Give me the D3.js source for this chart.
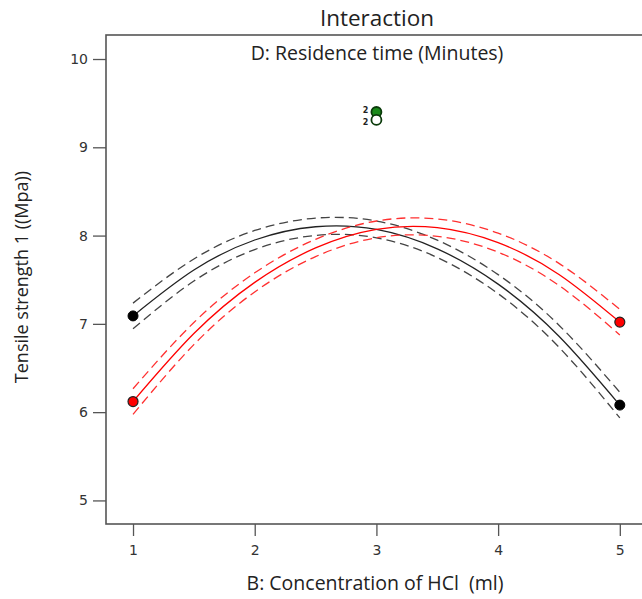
<!DOCTYPE html>
<html>
<head>
<meta charset="utf-8">
<script src="https://cdn.jsdelivr.net/npm/d3@7/dist/d3.min.js"></script>
<style>
  html, body { margin: 0; padding: 0; background: #fff; }
  svg { display: block; }
</style>
</head>
<body>
<svg id="chart" width="642" height="599"></svg>
<script>
// B: concentration of HCl (ml) positions where the curves are sampled
const hclLevels = [1, 1.5, 2, 2.5, 3, 3.5, 4, 4.5, 5];

// D low (black) — predicted tensile strength with confidence band
const lowMean  = [7.09, 7.61, 7.95, 8.10, 8.07, 7.85, 7.45, 6.86, 6.08];
const lowUpper = [7.235, 7.735, 8.058, 8.198, 8.165, 7.948, 7.558, 6.985, 6.225];
const lowLower = [6.945, 7.485, 7.842, 8.002, 7.975, 7.752, 7.342, 6.735, 5.935];

// D high (red) — predicted tensile strength with confidence band
const highMean  = [6.12, 6.89, 7.47, 7.86, 8.07, 8.09, 7.92, 7.56, 7.02];
const highUpper = [6.265, 7.015, 7.578, 7.958, 8.165, 8.188, 8.028, 7.685, 7.165];
const highLower = [5.975, 6.765, 7.362, 7.762, 7.975, 7.992, 7.812, 7.435, 6.875];

// End-point markers at the factor extremes
const lowEnds  = [[1, 7.09], [5, 6.08]];
const highEnds = [[1, 6.12], [5, 7.02]];

// Centre-point design runs (B, value, fill)
const centerRuns = [[3, 9.40, "#1a8a1a"], [3, 9.31, "#ffffff"]];
const centerLabels = ["2", "2"];

const xTicks = [1, 2, 3, 4, 5];
const yTicks = [5, 6, 7, 8, 9, 10];

const svg = d3.select("#chart");
const plotLeft = 106, plotTop = 35, plotBottom = 524, plotRight = 660;

const x = d3.scaleLinear().domain([0.778, 5.33]).range([plotLeft, plotLeft + (5.33 - 0.778) * 121.7]);
const y = d3.scaleLinear().domain([4.733, 10.272]).range([plotBottom, plotTop]);

const tickFont = "'DejaVu Sans', Verdana, sans-serif";
const labelFont = "'Open Sans', 'Noto Sans', sans-serif";

// Frame
svg.append("rect")
  .attr("x", plotLeft).attr("y", plotTop)
  .attr("width", plotRight - plotLeft).attr("height", plotBottom - plotTop)
  .attr("fill", "none").attr("stroke", "#555").attr("stroke-width", 1.6);

// Y axis
const yAxis = svg.append("g").attr("transform", `translate(${plotLeft},0)`)
  .call(d3.axisLeft(y).tickValues(yTicks).tickSize(13).tickPadding(5).tickFormat(d3.format("d")));
yAxis.select(".domain").remove();
yAxis.selectAll("line").attr("stroke", "#555").attr("stroke-width", 1.3);
yAxis.selectAll("text").attr("font-family", tickFont).attr("font-size", 14).attr("fill", "#333");

// X axis
const xAxis = svg.append("g").attr("transform", `translate(0,${plotBottom})`)
  .call(d3.axisBottom(x).tickValues(xTicks).tickSize(12).tickPadding(9).tickFormat(d3.format("d")));
xAxis.select(".domain").remove();
xAxis.selectAll("line").attr("stroke", "#555").attr("stroke-width", 1.3);
xAxis.selectAll("text").attr("font-family", tickFont).attr("font-size", 14).attr("fill", "#333");

// Titles
svg.append("text").attr("x", 377).attr("y", 26).attr("text-anchor", "middle")
  .attr("font-family", labelFont).attr("font-size", 22.5).attr("fill", "#222").text("Interaction");
svg.append("text").attr("x", 377).attr("y", 60).attr("text-anchor", "middle")
  .attr("font-family", labelFont).attr("font-size", 19.5).attr("fill", "#222").text("D: Residence time (Minutes)");
svg.append("text").attr("x", 375).attr("y", 590).attr("text-anchor", "middle")
  .attr("font-family", labelFont).attr("font-size", 19.5).attr("fill", "#222")
  .attr("xml:space", "preserve").style("white-space", "pre")
  .text("B: Concentration of HCl  (ml)");
svg.append("text").attr("transform", "translate(28,277) rotate(-90)").attr("text-anchor", "middle")
  .attr("font-family", labelFont).attr("font-size", 18).attr("fill", "#222").text("Tensile strength 1 ((Mpa))");

// Curves
const line = d3.line().x(d => x(d[0])).y(d => y(d[1])).curve(d3.curveNatural);
const zipped = vals => hclLevels.map((b, i) => [b, vals[i]]);

function drawCurve(vals, color, dashed) {
  svg.append("path").datum(zipped(vals))
    .attr("d", line).attr("fill", "none")
    .attr("stroke", color).attr("stroke-width", 1.3)
    .attr("stroke-dasharray", dashed ? "9,5" : null);
}
drawCurve(lowUpper, "#444", true);
drawCurve(lowLower, "#444", true);
drawCurve(lowMean, "#222", false);
drawCurve(highUpper, "#ff3030", true);
drawCurve(highLower, "#ff3030", true);
drawCurve(highMean, "#ff0000", false);

// End markers
svg.selectAll(".lowEnd").data(lowEnds).enter().append("circle")
  .attr("cx", d => x(d[0])).attr("cy", d => y(d[1])).attr("r", 5)
  .attr("fill", "#000").attr("stroke", "#000");
svg.selectAll(".highEnd").data(highEnds).enter().append("circle")
  .attr("cx", d => x(d[0])).attr("cy", d => y(d[1])).attr("r", 5)
  .attr("fill", "#ff0000").attr("stroke", "#222").attr("stroke-width", 1.2);

// Centre-point runs
svg.selectAll(".center").data(centerRuns).enter().append("circle")
  .attr("cx", d => x(d[0])).attr("cy", d => y(d[1])).attr("r", 5)
  .attr("fill", d => d[2]).attr("stroke", "#0a3a0a").attr("stroke-width", 1.8);
svg.selectAll(".centerLabel").data(centerRuns).enter().append("text")
  .attr("x", d => x(d[0]) - 8).attr("y", (d, i) => y(d[1]) + (i === 0 ? 1.5 : 5.5))
  .attr("text-anchor", "end")
  .attr("font-family", tickFont).attr("font-size", 8).attr("font-weight", "bold").attr("fill", "#222")
  .text((d, i) => centerLabels[i]);
</script>
</body>
</html>
